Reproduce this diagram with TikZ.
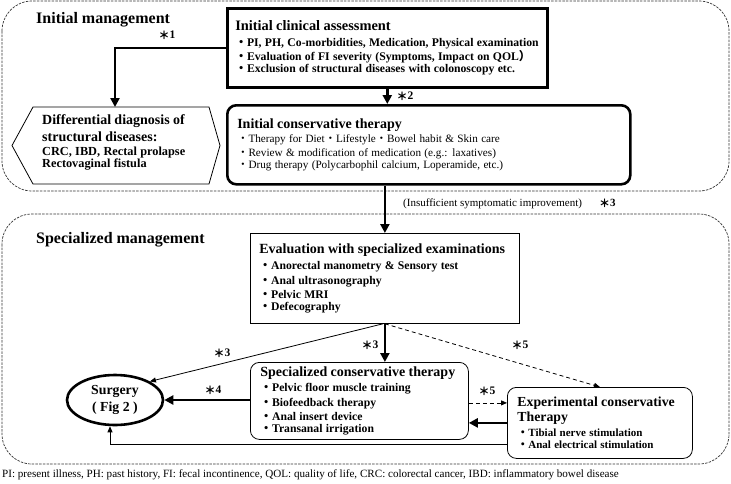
\documentclass[tikz,border=0pt]{standalone}
\usepackage{fontspec}
\setmainfont{Liberation Serif}
\newfontfamily\cjk{Noto Sans CJK JP}
\usetikzlibrary{arrows.meta,calc,shapes.geometric}
\newcommand\bu{{\cjk ・}}
\newcommand\myast[1]{\raisebox{-1.2pt}{\fontsize{11}{12}\selectfont\cjk\bfseries ＊}{\bfseries #1}}
\newcommand\tfont{\fontsize{14}{15}\selectfont\bfseries}
\newcommand\ifont{\fontsize{11.7}{14.2}\selectfont\bfseries}
\begin{document}
\begin{tikzpicture}[x=1pt,y=-1pt,
  frame/.style={draw=black!80, line width=0.7pt, dash pattern=on 2.5pt off 1.2pt, rounded corners=30pt},
  thickbox/.style={draw, line width=2.6pt, inner xsep=9pt, inner ysep=0pt, anchor=north west, align=left},
  thinbox/.style={draw, line width=0.8pt, inner xsep=9pt, inner ysep=0pt, anchor=north west, align=left},
  thickarr/.style={line width=2.6pt, -{Triangle[length=9pt,width=9pt]}},
  thinarr/.style={line width=0.8pt, -{Triangle[length=6pt,width=5pt]}},
  dasharr/.style={line width=0.8pt, dash pattern=on 4pt off 3pt, -{Triangle[length=6pt,width=5pt]}},
  lbl/.style={inner sep=0pt, font=\fontsize{11.5}{12}\selectfont},
  ]
\useasboundingbox (0,0) rectangle (731,483);
\fill[white] (0,0) rectangle (731,483);

% frames
\draw[frame] (2,1) rectangle (729,191);
\draw[frame] (2,214) rectangle (729,464);
\node[anchor=west, inner sep=0pt, font=\fontsize{16}{18}\selectfont\bfseries] (t1) at (36,20) {Initial management};
\node[anchor=west, inner sep=0pt, font=\fontsize{16}{18}\selectfont\bfseries] (t2) at (36,240) {Specialized management};

% initial clinical assessment
\node[thickbox, text width=304pt, inner xsep=8pt, minimum height=79pt] (A) at (226,7)
 {{\fontsize{14.4}{15}\selectfont\bfseries Initial clinical assessment}\\[1pt]
  \ifont\bu PI, PH, Co-morbidities, Medication,\ Physical examination\\
  \bu Evaluation of FI severity (Symptoms,\ Impact on QOL{\cjk ）}\\
  \bu Exclusion of structural diseases with colonoscopy etc.};

% initial conservative therapy
\node[thickbox, rounded corners=9pt, inner xsep=10pt, text width=383pt, minimum height=79pt] (C) at (226,104)
 {{\tfont Initial conservative therapy}\\[0pt]
  \fontsize{11.2}{14.4}\selectfont\bu Therapy for Diet\bu Lifestyle\bu Bowel habit \& Skin care\\
  \bu Review \& modification of medication (e.g.: laxatives)\\
  \bu Drug therapy (Polycarbophil calcium, Loperamide, etc.)};

% differential diagnosis hexagon
\draw[line width=0.8pt] (12,145.5) -- (33,107) -- (209,107) -- (220,145.5) -- (209,184) -- (33,184) -- cycle;
\coordinate (htop) at (115,107);
\node[anchor=north west, inner sep=0pt, text width=170pt, align=left] (H) at (42,114)
 {{\tfont Differential diagnosis of}\\[4pt]
  {\tfont structural diseases:}\\
  \fontsize{12.3}{14}\selectfont\bfseries CRC, IBD, Rectal prolapse\\
  Rectovaginal fistula};

% evaluation
\node[thinbox, text width=251pt, minimum height=90pt] (E) at (250,233)
 {{\tfont Evaluation with specialized examinations}\\[2pt]
  \ifont\bu Anorectal manometry \& Sensory test\\
  \bu Anal ultrasonography\\
  \bu Pelvic MRI\\
  \bu Defecography};

% specialized conservative therapy
\node[thinbox, rounded corners=9pt, inner xsep=10pt, text width=198pt, minimum height=77pt] (S) at (250,362)
 {{\tfont Specialized conservative therapy}\\[1pt]
  \ifont\bu Pelvic floor muscle training\\
  \bu Biofeedback therapy\\
  \bu Anal insert device\\
  \bu Transanal irrigation};

% experimental
\node[thinbox, rounded corners=9pt, inner xsep=10pt, text width=165pt, minimum height=71pt] (X) at (507,387)
 {{\fontsize{13.8}{15}\selectfont\bfseries Experimental conservative}\\[1pt]
  {\fontsize{13.8}{15}\selectfont\bfseries Therapy}\\[1.5pt]
  \fontsize{11}{13.5}\selectfont\bfseries\bu Tibial nerve stimulation\\
  \bu Anal electrical stimulation};

% surgery
\node[draw, ellipse, line width=2.6pt, minimum width=96pt, minimum height=50pt, inner sep=0pt, align=center, font=\fontsize{13.8}{17}\selectfont\bfseries] (Sg) at (115,400) {Surgery\\( Fig 2 )};

% connectors
\draw[thickarr] (A.west) -| (htop);
\draw[thickarr] (A.south) -- (A.south |- C.north);
\draw[thickarr] (E.north |- C.south) -- (E.north);
\draw[thickarr] (E.south) -- (E.south |- S.north);
\draw[thinarr] ($(E.south)+(-2,0)$) -- (Sg.28);
\draw[dasharr] (E.south) -- (X.north);
\draw[thickarr] (S.west |- Sg.east) -- (Sg.east);
\coordinate (sy) at ($(X.west)+(0,-20)$);
\draw[dasharr] (sy -| S.east) -- (sy);
\draw[thickarr] (X.west) -- (X.west -| S.east);
\draw[thinarr] ($(X.west)+(0,21)$) -| ($(Sg.south)+(-5,0)$);

% labels
\node[lbl] (l1) at (167,35) {\myast{1}};
\node[lbl] (l2) at (405,96) {\myast{2}};
\node[lbl, anchor=west, font=\fontsize{11}{12}\selectfont] (l3) at (403,204) {(Insufficient symptomatic improvement)\hspace{17pt}\myast{3}};
\node[lbl] (l4) at (370,345) {\myast{3}};
\node[lbl] (l5) at (222,353) {\myast{3}};
\node[lbl] (l6) at (520,345) {\myast{5}};
\node[lbl] (l7) at (213,390) {\myast{4}};
\node[lbl] (l8) at (487,391) {\myast{5}};

% footnote
\node[anchor=west, inner sep=0pt, font=\fontsize{11.1}{12}\selectfont] (fn) at (2,475)
 {PI: present illness, PH: past history, FI: fecal incontinence, QOL: quality of life, CRC: colorectal cancer, IBD: inflammatory bowel disease};
\end{tikzpicture}
\end{document}
